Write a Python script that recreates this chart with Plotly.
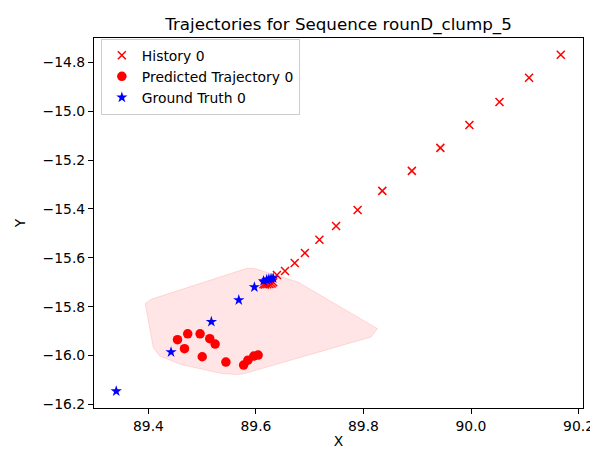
import plotly.graph_objects as go

# history (observed) positions
hist_x = [90.167, 90.108, 90.053, 89.997, 89.943, 89.890, 89.835, 89.789, 89.749, 89.718,
          89.691, 89.672, 89.654, 89.639, 89.632, 89.629, 89.625, 89.621, 89.617, 89.614]
hist_y = [-14.769, -14.863, -14.962, -15.056, -15.150, -15.244, -15.326, -15.404, -15.470, -15.526,
          -15.580, -15.621, -15.654, -15.670, -15.700, -15.705, -15.707, -15.708, -15.709, -15.708]

# predicted trajectory
pred_x = [89.454, 89.473, 89.496, 89.514, 89.524, 89.467, 89.500, 89.544, 89.577, 89.585, 89.596, 89.604]
pred_y = [-15.935, -15.911, -15.911, -15.931, -15.953, -15.972, -16.005, -16.027, -16.039, -16.019, -16.002, -15.998]

# ground truth
gt_x = [89.632, 89.628, 89.624, 89.620, 89.614, 89.597, 89.568, 89.517, 89.442, 89.340]
gt_y = [-15.683, -15.686, -15.688, -15.690, -15.695, -15.720, -15.773, -15.862, -15.986, -16.146]

# uncertainty region outline
hull_x = [89.394, 89.405, 89.583, 89.596, 89.678, 89.826, 89.814, 89.577, 89.565, 89.534,
          89.461, 89.421, 89.409, 89.394]
hull_y = [-15.788, -15.770, -15.643, -15.643, -15.699, -15.890, -15.924, -16.075, -16.078, -16.073,
          -16.037, -16.002, -15.968, -15.788]

all_x = hist_x + pred_x + gt_x
all_y = hist_y + pred_y + gt_y
pad_x = (max(all_x) - min(all_x)) * 0.05
pad_y = (max(all_y) - min(all_y)) * 0.05

fig = go.Figure()

fig.add_trace(go.Scatter(
    x=hull_x, y=hull_y, mode="lines", fill="toself",
    fillcolor="rgba(255,0,0,0.1)", line=dict(color="rgba(255,0,0,0.12)", width=1),
    showlegend=False, hoverinfo="skip",
))
fig.add_trace(go.Scatter(
    x=hist_x, y=hist_y, mode="markers", name="History 0",
    marker=dict(symbol="x-thin", size=8, color="red", line=dict(color="red", width=1.5)),
))
fig.add_trace(go.Scatter(
    x=pred_x, y=pred_y, mode="markers", name="Predicted Trajectory 0",
    marker=dict(symbol="circle", size=9.5, color="red"),
))
fig.add_trace(go.Scatter(
    x=gt_x, y=gt_y, mode="markers", name="Ground Truth 0",
    marker=dict(symbol="star", size=8.5, color="blue"),
))

axis_style = dict(
    showgrid=False, zeroline=False, showline=True, mirror=True,
    linecolor="black", linewidth=1.1, ticks="outside", ticklen=5, tickwidth=1.1,
    tickcolor="black", dtick=0.2, tickformat=".1f",
    tickfont=dict(family="DejaVu Sans", size=13.9, color="black"),
)

fig.update_layout(
    width=598, height=453,
    margin=dict(l=82, r=20, t=30, b=53),
    paper_bgcolor="white", plot_bgcolor="white",
    font=dict(family="DejaVu Sans", color="black"),
    title=dict(text="Trajectories for Sequence rounD_clump_5", x=0.5, xref="paper",
               y=1, yref="paper", yanchor="bottom", pad=dict(b=8),
               font=dict(family="DejaVu Sans", size=16.7, color="black")),
    xaxis=dict(axis_style, range=[min(all_x) - pad_x, max(all_x) + pad_x], tick0=89.4,
               title=dict(text="X", standoff=3, font=dict(size=13.9))),
    yaxis=dict(axis_style, range=[min(all_y) - pad_y, max(all_y) + pad_y], tick0=-16.2,
               title=dict(text="Y", standoff=13, font=dict(size=13.9))),
    legend=dict(x=0.014, y=0.998, xanchor="left", yanchor="top",
                bgcolor="rgba(255,255,255,0.8)", bordercolor="#cccccc", borderwidth=1,
                font=dict(family="DejaVu Sans", size=13.9, color="black")),
)

fig.write_html("out.html")
